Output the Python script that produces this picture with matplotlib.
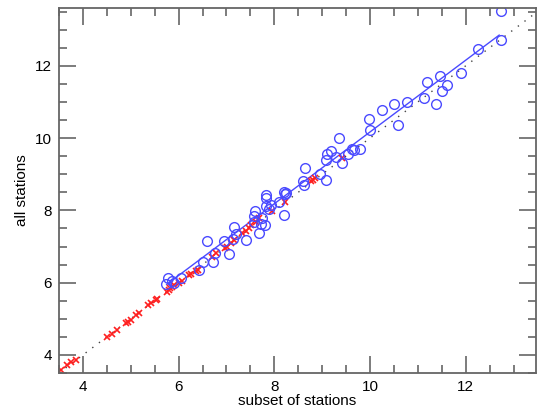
import numpy as np
import matplotlib
matplotlib.use("Agg")
import matplotlib.pyplot as plt
from matplotlib.ticker import MultipleLocator

plt.rcParams['font.family'] = ['Liberation Sans', 'DejaVu Sans']

# blue circles: stations (subset value, all-stations value)
circle_x = [5.73, 5.78, 5.86, 5.90, 6.06, 6.43, 6.52, 6.60, 6.71, 6.77,
            6.94, 7.06, 7.16, 7.19, 7.13, 7.40, 7.57, 7.60, 7.58, 7.68,
            7.72, 7.74, 7.81, 7.82, 7.83, 7.83, 7.88, 7.93, 8.10, 8.20,
            8.21, 8.25, 8.22, 8.61, 8.62, 8.64, 8.95, 9.08, 9.09, 9.11,
            9.18, 9.29, 9.36, 9.42, 9.54, 9.62, 9.66, 9.79, 9.98, 10.00,
            10.25, 10.51, 10.59, 10.78, 11.13, 11.19, 11.39, 11.46, 11.50, 11.60,
            11.90, 12.25, 12.73, 12.74]
circle_y = [5.96, 6.14, 6.05, 5.99, 6.14, 6.35, 6.58, 7.14, 6.56, 6.82,
            7.16, 6.80, 7.53, 7.36, 7.22, 7.19, 7.68, 7.97, 7.84, 7.37,
            7.63, 7.78, 7.60, 8.43, 8.34, 8.11, 8.05, 8.16, 8.22, 7.88,
            8.52, 8.49, 8.45, 8.80, 8.71, 9.17, 9.01, 8.85, 9.40, 9.56,
            9.63, 9.48, 9.99, 9.32, 9.57, 9.70, 9.66, 9.70, 10.52, 10.23,
            10.79, 10.94, 10.37, 11.01, 11.11, 11.54, 10.95, 11.73, 11.31, 11.48,
            11.80, 12.47, 12.71, 13.53]

# red crosses
cross_x = [3.55, 3.66, 3.75, 3.85, 4.51, 4.61, 4.72, 4.89, 4.94, 5.00,
           5.10, 5.17, 5.35, 5.42, 5.52, 5.55, 5.76, 5.80, 5.83, 5.87,
           5.90, 6.01, 6.08, 6.22, 6.25, 6.36, 6.41, 6.70, 6.78, 6.98,
           7.02, 7.09, 7.16, 7.33, 7.40, 7.47, 7.51, 7.61, 7.68, 7.96,
           8.22, 8.76, 8.80, 8.85, 9.42]
cross_y = [3.58, 3.72, 3.81, 3.86, 4.51, 4.58, 4.69, 4.88, 4.92, 4.97,
           5.11, 5.16, 5.39, 5.43, 5.52, 5.55, 5.74, 5.80, 5.85, 5.87,
           5.93, 6.00, 6.04, 6.22, 6.24, 6.31, 6.35, 6.72, 6.82, 6.95,
           7.00, 7.09, 7.19, 7.38, 7.44, 7.51, 7.60, 7.69, 7.79, 7.97,
           8.24, 8.80, 8.85, 8.89, 9.45]

# fitted line end points and 1:1 reference
fit_x = [5.75, 12.70]
fit_y = [5.95, 12.85]
one_to_one = [3.5, 13.6]

BLUE = '#4a4aff'
RED = '#ff2020'

fig = plt.figure(figsize=(5.37, 4.11), dpi=100)
fig.patch.set_facecolor('white')
ax = fig.add_axes([59/537, 1-373/411, 477/537, 365/411])

ax.plot(one_to_one, one_to_one, linestyle=(0, (1, 5)), color='#444444', lw=1.0)
ax.plot(fit_x, fit_y, color=BLUE, lw=1.0)
ax.plot(cross_x, cross_y, linestyle='none', marker='x', color=RED,
        markersize=5, markeredgewidth=1.2)
ax.plot(circle_x, circle_y, linestyle='none', marker='o', markerfacecolor='none',
        markeredgecolor=BLUE, markersize=7, markeredgewidth=1.0)

ax.set_xlim(3.5, 13.47)
ax.set_ylim(3.5, 13.6)
ax.xaxis.set_major_locator(MultipleLocator(2))
ax.xaxis.set_minor_locator(MultipleLocator(0.5))
ax.yaxis.set_major_locator(MultipleLocator(2))
ax.yaxis.set_minor_locator(MultipleLocator(0.5))

ax.tick_params(which='both', direction='in', top=True, right=True,
               color='#666666', width=1.2, labelsize=11, pad=5)
ax.tick_params(which='major', length=12)
ax.tick_params(which='minor', length=6)
for sp in ax.spines.values():
    sp.set_color('#666666')
    sp.set_linewidth(1.3)

ax.set_xlabel('subset of stations', fontsize=11, labelpad=0)
ax.set_ylabel('all stations', fontsize=11, labelpad=4)

fig.savefig('out.png', dpi=100, facecolor='white')
